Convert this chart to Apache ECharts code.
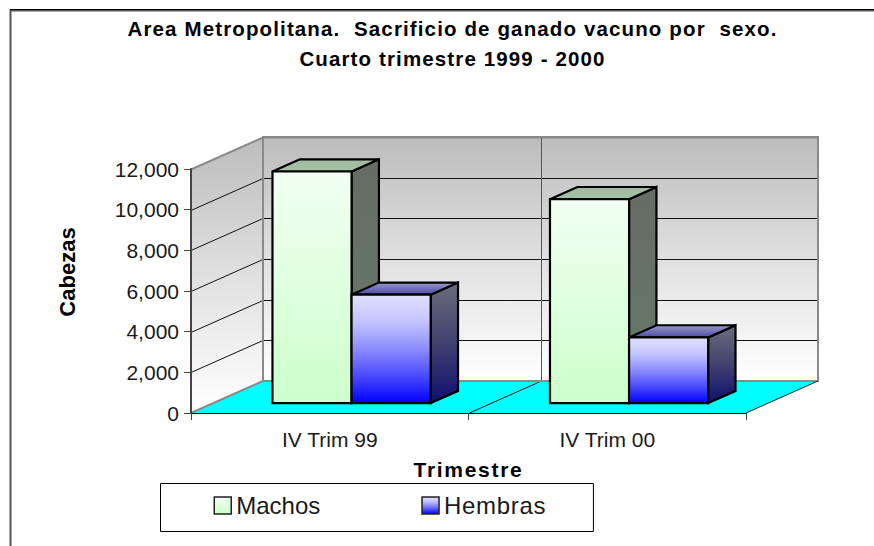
<!DOCTYPE html>
<html>
<head>
<meta charset="utf-8">
<style>html,body{margin:0;padding:0;background:#fff}#c{width:874px;height:546px}</style>
<script src="https://cdn.jsdelivr.net/npm/echarts@6/dist/echarts.min.js"></script>
</head>
<body>
<div id="c"></div>
<script>
const categories = ['IV Trim 99', 'IV Trim 00'];
const machos = [11390, 10030];
const hembras = [5330, 3230];
const yTicks = [0, 2000, 4000, 6000, 8000, 10000, 12000];
const titleLines = ['Area Metropolitana.  Sacrificio de ganado vacuno por  sexo.', 'Cuarto trimestre 1999 - 2000'];

const FONT = '"Liberation Sans", Arial, sans-serif';
const DEPTH = [72, -32];
const BAR_FRONT = 0.31, BAR_BACK = 0.69, BAR_W = 0.285;

const lg = (stops) => ({type:'linear',x:0,y:0,x2:0,y2:1,colorStops:stops.map(c=>({offset:c[0],color:c[1]}))});
const faces = {
  Machos: {
    front: lg([[0,'#f2fff2'],[1,'#ccffcc']]),
    side: lg([[0,'#666c66'],[1,'#667a66']]),
    top: lg([[0,'#a3b8a3'],[1,'#a3c4a3']])
  },
  Hembras: {
    front: lg([[0,'#e0e0ff'],[0.25,'#c4c4ff'],[0.5,'#8c8cff'],[0.75,'#4a4aff'],[1,'#0000ff']]),
    side: lg([[0,'#6c6c7c'],[0.5,'#424270'],[1,'#0e0e70']]),
    top: lg([[0,'#9a9ac4'],[1,'#4a4aa8']])
  }
};

function barRender(name, slot) {
  return function (params, api) {
    const cat = api.value(0), val = api.value(1);
    const top = api.coord([cat, val]);
    const base = api.coord([cat, 0]);
    const band = api.size([1, 0])[0];
    const w = band * BAR_W;
    const x0 = top[0] + slot * w + DEPTH[0] * BAR_FRONT - 0.5;
    const x1 = x0 + w;
    const yT = top[1] + DEPTH[1] * BAR_FRONT;
    const yB = base[1] + DEPTH[1] * BAR_FRONT;
    const dx = DEPTH[0] * (BAR_BACK - BAR_FRONT), dy = DEPTH[1] * (BAR_BACK - BAR_FRONT);
    const f = faces[name];
    const line = {stroke:'#000', lineWidth:2.2, lineJoin:'miter'};
    return {type:'group', children:[
      {type:'polygon', shape:{points:[[x1,yT],[x1+dx,yT+dy],[x1+dx,yB+dy],[x1,yB]]}, style:Object.assign({fill:f.side},line)},
      {type:'polygon', shape:{points:[[x0,yT],[x0+dx,yT+dy],[x1+dx,yT+dy],[x1,yT]]}, style:Object.assign({fill:f.top},line)},
      {type:'rect', shape:{x:x0,y:yT,width:w,height:yB-yT}, style:Object.assign({fill:f.front},line)}
    ]};
  };
}

function sceneRender(params, api) {
  const band = api.size([1, 0])[0];
  const c0 = api.coord([0, 0]);
  const L = c0[0] - band / 2, R = L + band * categories.length;
  const yB = c0[1], yT = api.coord([0, yTicks[yTicks.length - 1]])[1];
  const [dx, dy] = DEPTH;
  const wall = lg([[0,'#bcbcbc'],[0.5,'#e0e0e0'],[1,'#ffffff']]);
  const gray = {stroke:'#8a8a8a', lineWidth:2};
  const kids = [
    {type:'polygon', shape:{points:[[L,yB],[L+dx,yB+dy],[L+dx,yT+dy],[L,yT]]}, style:{fill:wall}},
    {type:'rect', shape:{x:L+dx,y:yT+dy,width:R-L,height:yB-yT}, style:{fill:wall}},
    {type:'polygon', shape:{points:[[L,yB],[R,yB],[R+dx,yB+dy],[L+dx,yB+dy]]}, style:{fill:'#00ffff'}}
  ];
  yTicks.slice(1).forEach(t => {
    const y = Math.round(api.coord([0, t])[1]) + 0.5;
    const last = t === yTicks[yTicks.length-1];
    kids.push({type:'polyline', shape:{points:[[L,y],[L+dx,y+dy],[R+dx,y+dy]]},
      style:{stroke: last ? '#8a8a8a' : '#111', lineWidth: last ? 2 : 1, fill:null}});
  });
  categories.forEach((c, i) => {
    if (i === 0) return;
    const x = Math.round(L + band * i) + 0.5;
    kids.push({type:'line', shape:{x1:x+dx,y1:yT+dy,x2:x+dx,y2:yB+dy}, style:{stroke:'#555',lineWidth:1}});
    kids.push({type:'line', shape:{x1:x,y1:yB,x2:x+dx,y2:yB+dy}, style:{stroke:'#111',lineWidth:1}});
  });
  kids.push({type:'polyline', shape:{points:[[L,yB],[L+dx,yB+dy],[L+dx,yT+dy],[R+dx,yT+dy],[R+dx,yB+dy],[L+dx,yB+dy]]}, style:Object.assign({fill:null},gray)});
  kids.push({type:'line', shape:{x1:R,y1:yB,x2:R+dx,y2:yB+dy}, style:{stroke:'#222',lineWidth:1}});
  return {type:'group', children:kids};
}

const chart = echarts.init(document.getElementById('c'), null, {renderer:'svg'});
chart.setOption({
  animation:false,
  backgroundColor:'#ffffff',
  title:{
    text:titleLines.join('\n'),
    left:447.5, top:8, textAlign:'center',
    textStyle:{fontFamily:FONT,fontWeight:'bold',fontSize:20.5,lineHeight:30,color:'#000'}
  },
  grid:{left:191, top:169, width:555, height:244},
  xAxis:{
    type:'category', data:categories, z:10,
    name:'Trimestre', nameLocation:'middle', nameGap:46,
    nameTextStyle:{fontFamily:FONT,fontWeight:'bold',fontSize:21,color:'#000'},
    axisLine:{lineStyle:{color:'#000',width:1}},
    axisTick:{show:true,length:7,lineStyle:{color:'#444'}},
    axisLabel:{fontFamily:FONT,fontSize:21,color:'#1a1a1a',margin:16},
    splitLine:{show:false}
  },
  yAxis:{
    type:'value', min:0, max:12000, interval:2000, z:10,
    name:'Cabezas', nameLocation:'middle', nameGap:113, nameRotate:90,
    nameTextStyle:{fontFamily:FONT,fontWeight:'bold',fontSize:22,color:'#000',padding:[0,0,0,38]},
    axisLine:{show:true,lineStyle:{color:'#444',width:2}},
    axisTick:{show:true,length:7,lineStyle:{color:'#444'}},
    axisLabel:{fontFamily:FONT,fontSize:21,color:'#1a1a1a',margin:12,
      formatter:v=>v.toLocaleString('en-US')},
    splitLine:{show:false}
  },
  legend:{
    left:160.5, top:483.5, orient:'horizontal',
    padding:[10,52,14,53], itemWidth:17, itemHeight:17, itemGap:101,
    borderColor:'#000', borderWidth:1,
    itemStyle:{borderColor:'#222',borderWidth:1.5},
    textStyle:{fontFamily:FONT,fontSize:24,color:'#1a1a1a'},
    icon:'rect',
    data:['Machos','Hembras']
  },
  graphic:[
    {type:'polyline',silent:true,shape:{points:[[10.5,546],[10.5,10.5],[874,10.5]]},style:{stroke:'#555',lineWidth:2,fill:null}},
    {type:'line',silent:true,shape:{x1:10,y1:9.5,x2:874,y2:9.5},style:{stroke:'#000',lineWidth:1}}
  ],
  series:[
    {type:'custom', name:'scene', silent:true, z:1, clip:false, renderItem:sceneRender,
      coordinateSystem:'cartesian2d', data:[[0,0]], tooltip:{show:false}},
    {type:'custom', name:'Machos', z:2, clip:false, renderItem:barRender('Machos',-1),
      itemStyle:{color:faces.Machos.front}, encode:{x:0,y:1}, data:machos.map((v,i)=>[i,v])},
    {type:'custom', name:'Hembras', z:2, clip:false, renderItem:barRender('Hembras',0),
      itemStyle:{color:faces.Hembras.front}, encode:{x:0,y:1}, data:hembras.map((v,i)=>[i,v])}
  ]
});
const tracking = {[titleLines[0]]:'1.13px', [titleLines[1]]:'1.13px', 'Trimestre':'1.7px', 'Hembras':'0.7px'};
document.querySelectorAll('#c text').forEach(t => {
  const s = tracking[t.textContent];
  if (s) t.style.letterSpacing = s;
});
</script>
</body>
</html>
